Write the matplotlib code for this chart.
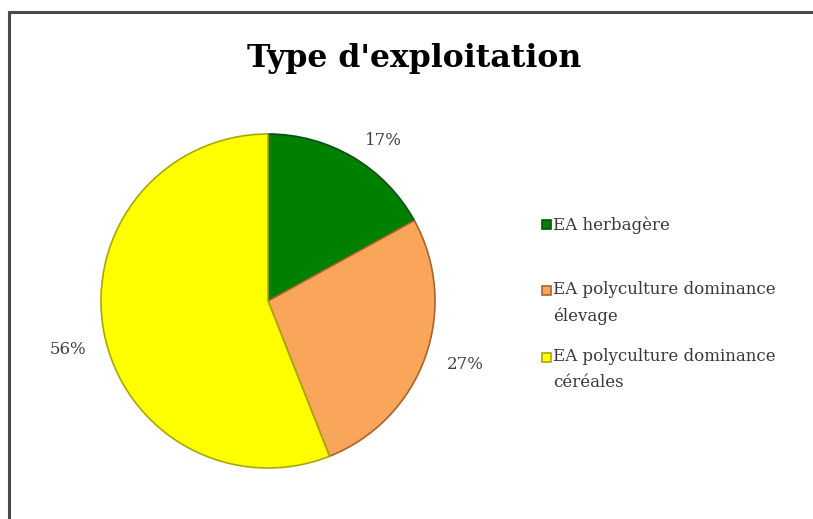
import matplotlib
matplotlib.use("Agg")
import matplotlib.pyplot as plt
from matplotlib.patches import Rectangle
from matplotlib.lines import Line2D

categories = ["EA herbagère", "EA polyculture dominance\nélevage", "EA polyculture dominance\ncéréales"]
values = [17, 27, 56]
colors = ["#008000", "#F9A65A", "#FFFF00"]
edges = ["#0B4F16", "#A8642A", "#A8A800"]
title = "Type d'exploitation"

W, H = 813, 519
fig = plt.figure(figsize=(W / 100, H / 100), dpi=100)
fig.patch.set_facecolor("white")

# border (left & top only visible)
fig.add_artist(Line2D([9 / W, 9 / W], [0, 1 - 12 / H], color="#4a4a4a", lw=2.2, transform=fig.transFigure))
fig.add_artist(Line2D([9 / W, 1], [1 - 12 / H, 1 - 12 / H], color="#4a4a4a", lw=2.2, transform=fig.transFigure))

cx, cy, r = 268, 301, 167
ax = fig.add_axes([(cx - r) / W, (H - cy - r) / H, 2 * r / W, 2 * r / H])
wedges, texts, autotexts = ax.pie(
    values, colors=colors, startangle=90, counterclock=False,
    autopct="%.0f%%", pctdistance=1.2,
    wedgeprops=dict(linewidth=1.2),
    textprops=dict(family="DejaVu Serif", fontsize=12, color="#404040"),
)
for w, e in zip(wedges, edges):
    w.set_edgecolor(e)
# label placement (Excel best-fit positions)
label_pos = [(0.689, 0.964), (1.180, -0.383), (-1.198, -0.293)]
for t, p in zip(autotexts, label_pos):
    t.set_position(p)
ax.set_xlim(-1, 1)
ax.set_ylim(-1, 1)
ax.set_aspect("equal")
ax.axis("off")

fig.text(414 / W, 1 - 58 / H, title, ha="center", va="center",
         family="DejaVu Serif", fontweight="bold", fontsize=22.7)

# legend
ys = [225, 290, 357]
for lab, c, e, y in zip(categories, colors, edges, ys):
    fig.add_artist(Rectangle(((542) / W, 1 - (y + 4.5) / H), 9 / W, 9 / H,
                             facecolor=c, edgecolor=e, lw=1.2, transform=fig.transFigure))
    fig.text(553 / W, 1 - (y - 9) / H, lab, ha="left", va="top",
             family="DejaVu Serif", fontsize=12, color="#383838", linespacing=1.68)

fig.savefig("out.png", dpi=100)
